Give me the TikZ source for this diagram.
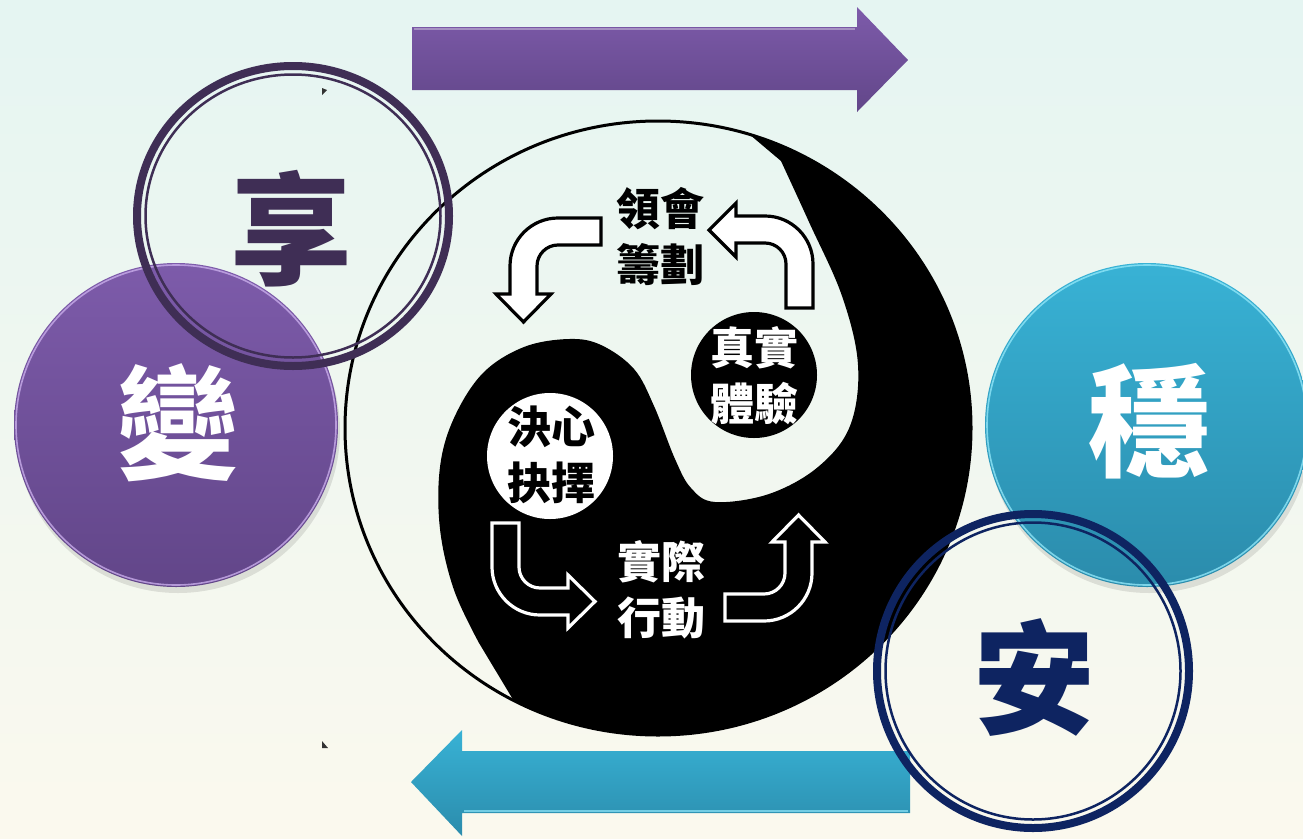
\documentclass[tikz,border=0pt]{standalone}
\usepackage{fontspec}
\newfontfamily\cjk{Noto Sans CJK TC}
\usetikzlibrary{calc}
\definecolor{bgtop}{HTML}{E5F5F2}
\definecolor{bgbot}{HTML}{FBF9EE}
\definecolor{purtop}{HTML}{7D5BAA}
\definecolor{purbot}{HTML}{624689}
\definecolor{bluetop}{HTML}{38B2D5}
\definecolor{bluebot}{HTML}{2B8CAC}
\definecolor{ringP}{HTML}{3F2E55}
\definecolor{ringN}{HTML}{0E2461}
\definecolor{purrim}{HTML}{C9ADEB}
\definecolor{bluerim}{HTML}{8FE6F8}
\tikzset{
  bigchar/.style={inner sep=0pt, font=\cjk\bfseries\fontsize{122}{122}\selectfont},
  label/.style={inner sep=0pt, align=center, font=\cjk\bfseries\fontsize{44}{56}\selectfont},
  blackbent/.style={draw=black, fill=white, line width=3.2pt, line join=miter},
  whitebent/.style={draw=white, fill=black, line width=3.2pt, line join=miter},
  ringthick/.style={line width=8pt},
  ringthin/.style={line width=2.5pt},
  glossy/.style={line width=1.6pt}
}
\begin{document}
\begin{tikzpicture}[x=1pt,y=-1pt]
\useasboundingbox (0,0) rectangle (1303,838);
% background
\shade[top color=bgtop, bottom color=bgbot] (0,0) rectangle (1303,838);

% top arrow (purple, to the right)
\shade[top color=purtop, bottom color=purbot]
  (412,27) -- (857,27) -- (857,7) -- (908,60) -- (857,112) -- (857,90) -- (412,90) -- cycle;
\draw[white, opacity=0.35, line width=2pt] (414,29) -- (855,29);
% bottom arrow (blue, to the left)
\shade[top color=bluetop, bottom color=bluebot]
  (910,751) -- (462,751) -- (462,730) -- (411,782) -- (462,836) -- (462,813) -- (910,813) -- cycle;
\draw[bluerim, opacity=0.7, line width=2pt] (464,811) -- (908,811);

% small marks
\fill[black!80] (322,88) -- (327,90) -- (322,95) -- cycle;
\fill[black!80] (322,741) -- (322,748) -- (328,748) -- cycle;

% glossy circles
\fill[black, opacity=0.10] (178,431) circle[radius=162];
\shade[top color=purtop, bottom color=purbot] (176,425) circle[radius=162];
\draw[purrim, glossy, opacity=0.8] (176,425) circle[radius=160];
\fill[black, opacity=0.10] (1149,431) circle[radius=162];
\shade[top color=bluetop, bottom color=bluebot] (1147,425) circle[radius=162];
\draw[bluerim, glossy, opacity=0.8] (1147,425) circle[radius=160];

% yin-yang
\coordinate (Y) at (658,428);
\fill[black] (Y) ++(-73:313 and 307)
  arc[start angle=-73, end angle=117.5, x radius=313, y radius=307]
  -- plot[smooth, tension=0.6] coordinates {(479,643) (454,590) (440,529) (440,467) (454,418) (483,373) (524,347) (569,339) (601,345) (634,369) (654,406) (675,459) (691,488) (715,502) (769,494) (818,467) (850,426) (858,365) (842,296) (809,222) (781,161)}
  -- cycle;
\draw[black, line width=3pt] (Y) ellipse[x radius=313, y radius=307];

% inner circles
\node[circle, fill=black, minimum size=126pt, inner sep=0pt] (tyc) at (754,375) {};
\node[circle, fill=white, minimum size=126pt, inner sep=0pt] (jxc) at (550,456) {};

% bent arrows
\path[blackbent] (601,218) -- (558,218) .. controls (531.5,218) and (510,239.5) .. (510,266)
  -- (510,294) -- (496,294) -- (523.5,322) -- (551,294) -- (537,294) -- (537,266)
  .. controls (537,254.4) and (546.4,245) .. (558,245) -- (601,245) -- cycle;
\path[blackbent] (786,308) -- (786,264) .. controls (786,252.4) and (776.6,243) .. (765,243)
  -- (736,243) -- (736,257) -- (709,230) -- (736,203) -- (736,216) -- (765,216)
  .. controls (791.5,216) and (813,237.5) .. (813,264) -- (813,308) -- cycle;
\path[whitebent] (492,523) -- (492,567) .. controls (492,593.5) and (513.5,615) .. (540,615)
  -- (568,615) -- (568,628) -- (595,601.5) -- (568,575) -- (568,588) -- (540,588)
  .. controls (528.4,588) and (519,578.6) .. (519,567) -- (519,523) -- cycle;
\path[whitebent] (725,621) -- (764,621) .. controls (790.5,621) and (812,599.5) .. (812,573)
  -- (812,542) -- (825,542) -- (798.5,515) -- (772,542) -- (785,542) -- (785,573)
  .. controls (785,584.6) and (775.6,594) .. (764,594) -- (725,594) -- cycle;

% labels
\node[label, text=black] (lh) at (660,237) {領會\\籌劃};
\node[label, text=white] (ty) at (754,376) {真實\\體驗};
\node[label, text=black] (jx) at (551,455) {決心\\抉擇};
\node[label, text=white] (sx) at (661,590) {實際\\行動};

% rings
\draw[ringP, ringthick] (293,216) ellipse[x radius=156, y radius=150];
\draw[ringP, ringthin] (293,216) ellipse[x radius=147.5, y radius=141.5];
\draw[ringN, ringthick] (1033,671) ellipse[x radius=156, y radius=157];
\draw[ringN, ringthin] (1033,671) ellipse[x radius=147.5, y radius=148.5];

% big characters
\node[bigchar, text=white] (bian) at (178,423) {變};
\node[bigchar, text=ringP] (xiang) at (291,229) {享};
\node[bigchar, text=white] (wen) at (1149,421) {穩};
\node[bigchar, text=ringN] (an) at (1034,678) {安};
\end{tikzpicture}
\end{document}
